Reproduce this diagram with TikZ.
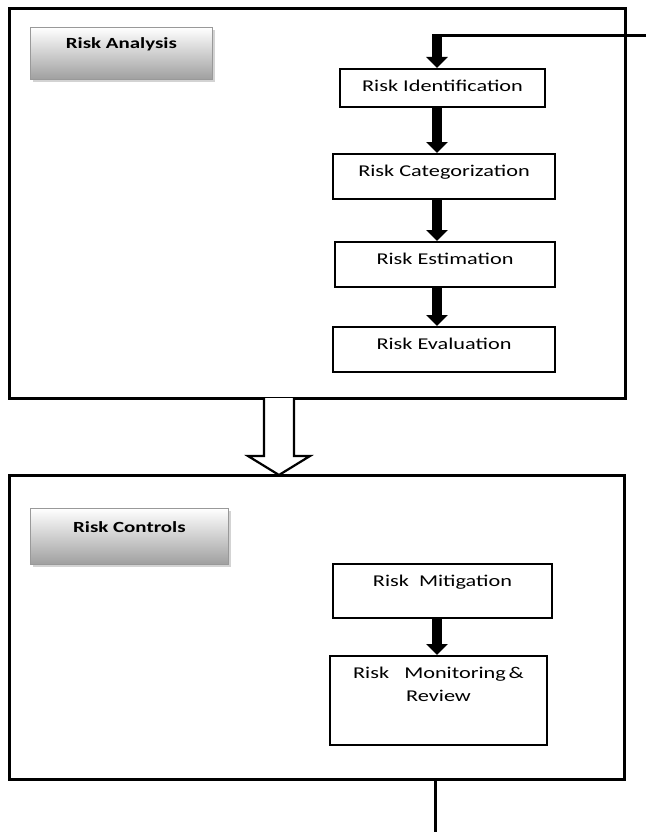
\documentclass[tikz,border=0pt]{standalone}
\usepackage{fontspec}
\setmainfont{Carlito}[FakeStretch=1.35]
\usetikzlibrary{arrows.meta,shadows,calc}
\begin{document}
\begin{tikzpicture}[x=1pt,y=-1pt,
  frame/.style={draw, line width=3pt, inner sep=0pt, outer sep=0pt, anchor=north west},
  header/.style={draw=gray!80, line width=0.8pt, top color=white, bottom color=gray!75,
    drop shadow={shadow xshift=2.5pt, shadow yshift=-2.5pt, opacity=0.35},
    inner sep=0pt, anchor=north west},
  htext/.style={font=\bfseries\fontsize{15.5}{18}\selectfont, anchor=center, inner sep=0pt},
  stepbox/.style={draw, line width=1.6pt, fill=white, anchor=north, inner xsep=0pt, inner ysep=0pt,
    font=\fontsize{16.5}{23}\selectfont, text height=23pt, align=center},
  steptext/.style={inner sep=0pt, anchor=north, font=\fontsize{16.5}{23}\selectfont, align=center},
  bigarrow/.style={line width=10pt, -{Triangle[width=21pt,length=11pt]}},
  line/.style={line width=3pt}
]
\useasboundingbox (0,0) rectangle (651,832);

% frames
\node[frame, minimum width=616pt, minimum height=389pt] (f1) at (9,9) {};
\node[frame, minimum width=615pt, minimum height=304pt] (f2) at (9,475) {};

% headers
\node[header, minimum width=182pt, minimum height=52pt] (h1) at (30,27) {};
\node[htext] (h1t) at ($(h1.north)+(0,17)$) {Risk Analysis};
\node[header, minimum width=198pt, minimum height=56pt] (h2) at (30,508) {};
\node[htext] (h2t) at ($(h2.north)+(0,19)$) {Risk Controls};

% step boxes
\node[stepbox, minimum width=205pt, text depth=15pt] (ident) at (442.5,68) {Risk Identification};
\node[stepbox, minimum width=222pt, text depth=22pt] (categ) at (444,153) {Risk Categorization};
\node[stepbox, minimum width=220pt, text depth=22pt] (estim) at (445,241) {Risk Estimation};
\node[stepbox, minimum width=222pt, text depth=22pt] (evalu) at (444,326) {Risk Evaluation};
\node[stepbox, minimum width=219pt, text depth=31pt] (mitig) at (442.5,563) {Risk\ \ Mitigation};
\node[stepbox, minimum width=217pt, minimum height=89pt, text height=0pt, text depth=0pt] (monit) at (438.5,655) {};
\node[steptext] (monitt) at ($(monit.north)+(0,12)$) {Risk\ \ \ Monitoring\,\&\\Review};

% column for arrows
\coordinate (col) at (437,0);
\coordinate (fb) at (646,36);
\coordinate (fbc) at (437,36);
\coordinate (bot) at (435,832);

% feedback line
\draw[line] (fb) -- ($(fbc)+(-5,0)$);
\draw[bigarrow] ($(fbc)+(0,-1.5)$) -- (ident.north -| col);

% chain arrows
\draw[bigarrow] (ident.south -| col) -- (categ.north -| col);
\draw[bigarrow] (categ.south -| col) -- (estim.north -| col);
\draw[bigarrow] (estim.south -| col) -- (evalu.north -| col);
\draw[bigarrow] (mitig.south -| col) -- (monit.north -| col);

% hollow arrow between frames
\draw[line width=2.2pt, fill=white, line join=miter]
  ($(f1.south west)+(255,0)$) -- ++(0,58) -- ++(-16,0) -- ($(f2.north west)+(270,0)$)
  -- ($(f1.south west)+(301,58)$) -- ++(-16,0) -- ($(f1.south west)+(285,0)$);

% bottom line
\draw[line] (f2.south -| bot) -- (bot);
\end{tikzpicture}
\end{document}
